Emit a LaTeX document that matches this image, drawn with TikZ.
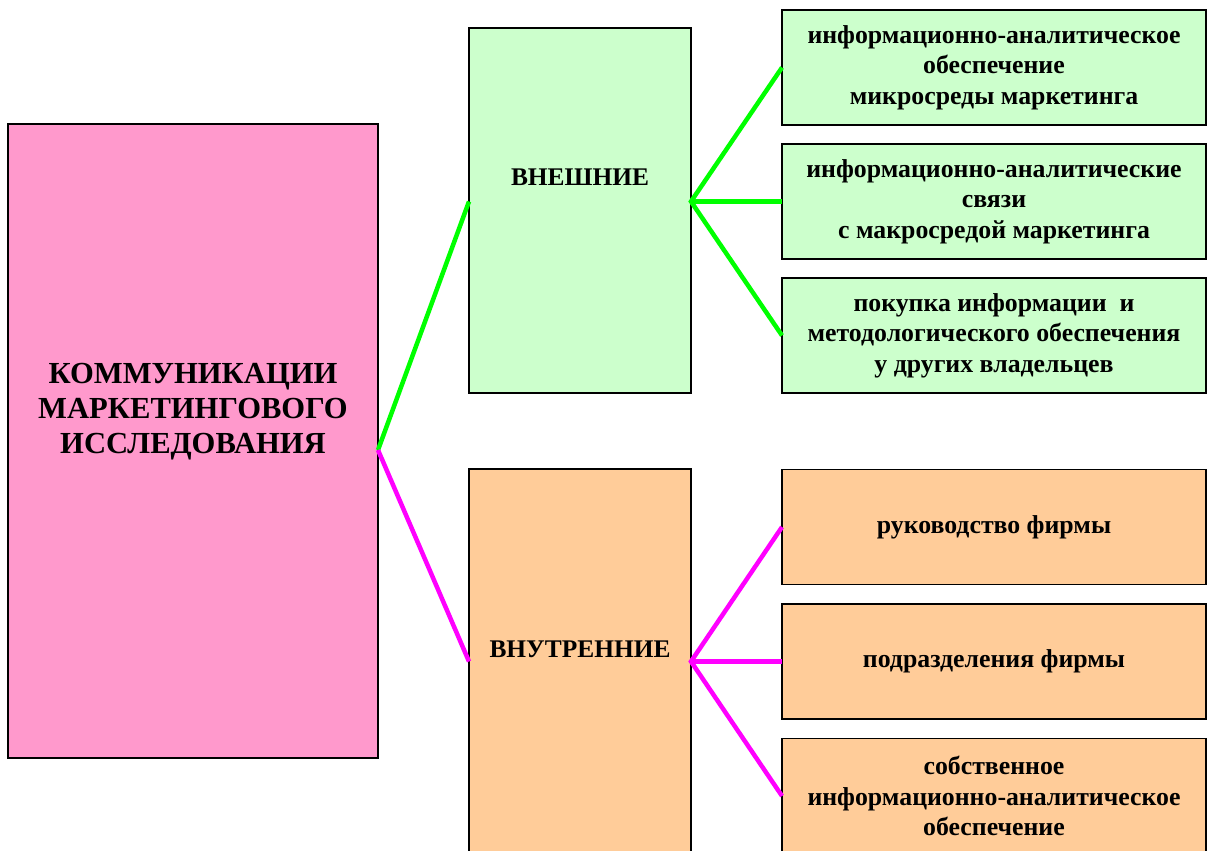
\documentclass[tikz,border=0pt]{standalone}
\usepackage{fontspec}
\setmainfont{Liberation Serif}
\usetikzlibrary{calc}
\definecolor{pinkfill}{HTML}{FF99CC}
\definecolor{greenfill}{HTML}{CCFFCC}
\definecolor{orangefill}{HTML}{FFCC99}
\definecolor{greenline}{HTML}{00FF00}
\definecolor{magline}{HTML}{FF00FF}
\tikzset{
  box/.style={draw=black, line width=1.2pt, rectangle, inner sep=0pt, outer sep=0pt},
  leafbox/.style={box, minimum width=424pt, minimum height=115pt, align=center,
    font=\fontsize{25.8}{30.5}\selectfont\bfseries},
  midbox/.style={box, minimum width=222pt},
  caption/.style={align=center, inner sep=0pt},
  gconn/.style={greenline, line width=4.5pt},
  mconn/.style={magline, line width=4.5pt},
}
\begin{document}
\begin{tikzpicture}[x=1pt, y=-1pt]
\useasboundingbox (0,0) rectangle (1207,851);
\begin{scope}
\clip (0,0) rectangle (1207,851);

% root box
\node[box, fill=pinkfill, minimum width=370pt, minimum height=634pt] (root) at (193,441) {};
\node[caption, font=\fontsize{30.6}{35}\selectfont\bfseries] (roottext) at (193,412)
  {КОММУНИКАЦИИ\\МАРКЕТИНГОВОГО\\ИССЛЕДОВАНИЯ};

% second level
\node[midbox, fill=greenfill, minimum height=365pt] (ext) at (580,210.5) {};
\node[caption, font=\fontsize{25.4}{28}\selectfont\bfseries] (exttext) at (580,177) {ВНЕШНИЕ};
\node[midbox, fill=orangefill, minimum height=386pt] (int) at (580,662) {};
\node[caption, font=\fontsize{25.4}{28}\selectfont\bfseries] (inttext) at (580,649) {ВНУТРЕННИЕ};

% leaves: external
\node[leafbox, fill=greenfill] (g1) at (994,67.5)
  {информационно-аналитическое\\обеспечение\\микросреды маркетинга};
\node[leafbox, fill=greenfill] (g2) at (994,201.5)
  {информационно-аналитические\\связи\\с макросредой маркетинга};
\node[leafbox, fill=greenfill] (g3) at (994,335.5)
  {покупка информации\ \ и\\методологического обеспечения\\у других владельцев};

% leaves: internal
\node[leafbox, fill=orangefill] (o1) at (994,527)
  {руководство фирмы};
\node[leafbox, fill=orangefill] (o2) at (994,661.5)
  {подразделения фирмы};
\node[leafbox, fill=orangefill] (o3) at (994,796)
  {собственное\\информационно-аналитическое\\обеспечение};

% connection points
\coordinate (hub) at ($(root.east)+(0,9)$);
\coordinate (extin) at (ext.west |- g2.west);
\coordinate (extout) at (ext.east |- g2.west);
\coordinate (intin) at (int.west |- o2.west);
\coordinate (intout) at (int.east |- o2.west);

% connectors
\draw[gconn] (hub) -- (extin);
\draw[mconn] (hub) -- (intin);
\draw[gconn] (g1.west) -- (extout) -- (g3.west);
\draw[gconn] (extout) -- (g2.west);
\draw[mconn] (o1.west) -- (intout) -- (o3.west);
\draw[mconn] (intout) -- (o2.west);
\end{scope}
\end{tikzpicture}
\end{document}
